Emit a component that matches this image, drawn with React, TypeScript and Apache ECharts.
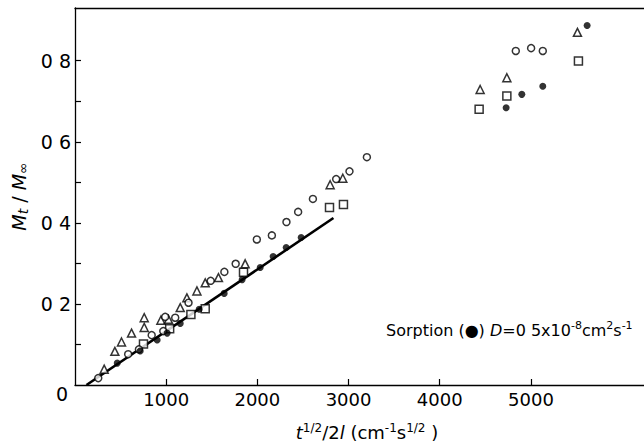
import React, { useEffect, useRef } from 'react';
import * as echarts from 'echarts';

// x: t^1/2 / 2l (cm^-1 s^1/2), y: Mt/M∞
const sorptionFilled: number[][] = [
  [463, 0.054], [715, 0.084], [901, 0.111], [1011, 0.128], [1154, 0.152],
  [1362, 0.187], [1636, 0.226], [1833, 0.26], [2031, 0.29], [2173, 0.317],
  [2316, 0.339], [2480, 0.364],
  [4728, 0.684], [4900, 0.717], [5130, 0.737], [5616, 0.887],
];
const openCircles: number[][] = [
  [255, 0.017], [583, 0.076], [701, 0.088], [841, 0.123], [968, 0.133],
  [989, 0.168], [1099, 0.166], [1245, 0.203], [1488, 0.257], [1638, 0.279],
  [1762, 0.299], [1994, 0.359], [2159, 0.369], [2319, 0.402], [2447, 0.427],
  [2609, 0.459], [2864, 0.508], [3010, 0.527], [3201, 0.562],
  [4834, 0.824], [5002, 0.831], [5130, 0.824],
];
const triangles: number[][] = [
  [320, 0.039], [437, 0.083], [510, 0.106], [620, 0.128], [759, 0.142],
  [759, 0.166], [942, 0.16], [1025, 0.162], [1154, 0.191], [1227, 0.215],
  [1337, 0.232], [1428, 0.252], [1573, 0.265], [1866, 0.299],
  [2798, 0.494], [2937, 0.51],
  [4443, 0.729], [4736, 0.758], [5510, 0.87],
];
const squares: number[][] = [
  [751, 0.101], [1038, 0.139], [1271, 0.174], [1428, 0.188], [1848, 0.278],
  [2791, 0.438], [2944, 0.445],
  [4432, 0.68], [4736, 0.713], [5521, 0.799],
];
const fitLine: number[][] = [[126, 0], [2834, 0.412]];

const xTickValues = [1000, 2000, 3000, 4000, 5000];
const xTickLabels = ['1000', '2000', '3000', '4000', '5000'];
const yMinorTicks = [0.1, 0.2, 0.3, 0.4, 0.5, 0.6, 0.7, 0.8];
const yTickValues = [0.2, 0.4, 0.6, 0.8];
const yTickLabels = ['0 2', '0 4', '0 6', '0 8'];

const FONT = 'DejaVu Sans';

export default function App() {
  const ref = useRef<HTMLDivElement>(null);
  useEffect(() => {
    if (!ref.current) return;
    const chart = echarts.init(ref.current, undefined, { renderer: 'svg' });
    const openStyle = { color: '#fff', borderColor: '#000', borderWidth: 1.5 };
    chart.setOption({
      animation: false,
      backgroundColor: '#fff',
      grid: { left: 75, right: 0, top: 8, bottom: 60 },
      xAxis: [
        {
          type: 'value', min: 0, max: 6240,
          axisLine: { lineStyle: { color: '#000', width: 1.3 } },
          axisTick: { inside: true, length: 6, customValues: xTickValues, lineStyle: { color: '#000', width: 1.2 } },
          splitLine: { show: false },
          axisLabel: {
            color: '#000', fontSize: 18, fontFamily: FONT, margin: 5,
            customValues: xTickValues,
            formatter: (v: number) => {
              const i = xTickValues.indexOf(v);
              return i >= 0 ? xTickLabels[i] : '';
            },
          },
          name: '{i|t}{sup|1/2}{n|/2}{i|l}{n| (cm}{sup|-1}{n|s}{sup|1/2}{n| )}',
          nameLocation: 'middle',
          nameGap: 37,
          nameTextStyle: {
            padding: [0, 0, 0, 15],
            rich: {
              i: { fontSize: 18, fontStyle: 'italic', fontFamily: FONT, color: '#000', lineHeight: 19, verticalAlign: 'bottom' },
              n: { fontSize: 18, fontFamily: FONT, color: '#000', lineHeight: 19, verticalAlign: 'bottom' },
              sup: { fontSize: 12, fontFamily: FONT, color: '#000', lineHeight: 12, verticalAlign: 'top' },
            },
          },
        },
        {
          type: 'value', position: 'top', min: 0, max: 6240,
          axisLine: { show: true, lineStyle: { color: '#000', width: 1.3 } },
          axisTick: { show: false }, axisLabel: { show: false }, splitLine: { show: false },
        },
      ],
      yAxis: {
        type: 'value', min: 0, max: 0.93,
        axisLine: { show: true, lineStyle: { color: '#000', width: 1.3 } },
        axisTick: { show: true, inside: true, length: 6, customValues: yMinorTicks, lineStyle: { color: '#000', width: 1.2 } },
        splitLine: { show: false },
        axisLabel: {
          color: '#000', fontSize: 19, fontFamily: FONT, margin: 4,
          customValues: yTickValues,
          formatter: (v: number) => {
            const i = yTickValues.findIndex((t) => Math.abs(t - v) < 1e-6);
            return i >= 0 ? yTickLabels[i] : '';
          },
        },
        name: '{i|M}{sub|t}{n| / }{i|M}{sub|∞}',
        nameLocation: 'middle',
        nameRotate: 90,
        nameGap: 42,
        nameTextStyle: {
          rich: {
            i: { fontSize: 19, fontStyle: 'italic', fontFamily: FONT, color: '#000', lineHeight: 20, verticalAlign: 'top' },
            n: { fontSize: 19, fontFamily: FONT, color: '#000', lineHeight: 20, verticalAlign: 'top' },
            sub: { fontSize: 14, fontStyle: 'italic', fontFamily: FONT, color: '#000', lineHeight: 14, verticalAlign: 'bottom' },
          },
        },
      },
      graphic: [
        {
          type: 'text', left: 56, top: 384,
          style: { text: '0', fontSize: 19, fontFamily: FONT, fill: '#000' },
        },
        {
          type: 'text', left: 386, top: 320,
          style: {
            text: '{n|Sorption (●) }{i|D}{n|=0 5x10}{sup|-8}{n|cm}{sup|2}{n|s}{sup|-1}',
            rich: {
              n: { fontSize: 16, fontFamily: FONT, fill: '#000', lineHeight: 18, verticalAlign: 'bottom' },
              i: { fontSize: 16, fontFamily: FONT, fontStyle: 'italic', fill: '#000', lineHeight: 18, verticalAlign: 'bottom' },
              sup: { fontSize: 11, fontFamily: FONT, fill: '#000', lineHeight: 11, verticalAlign: 'top' },
            },
          },
        },
      ],
      series: [
        {
          type: 'line', data: fitLine, symbol: 'none', silent: true,
          lineStyle: { color: '#000', width: 2.6 }, z: 2,
        },
        {
          type: 'scatter', data: squares, symbol: 'rect', symbolSize: 8,
          itemStyle: openStyle, z: 3,
        },
        {
          type: 'scatter', data: triangles, symbol: 'triangle', symbolSize: 8,
          itemStyle: openStyle, z: 3,
        },
        {
          type: 'scatter', data: openCircles, symbol: 'circle', symbolSize: 7,
          itemStyle: openStyle, z: 3,
        },
        {
          type: 'scatter', data: sorptionFilled, symbol: 'circle', symbolSize: 7,
          itemStyle: { color: '#000' }, z: 4,
        },
      ],
    });
    return () => chart.dispose();
  }, []);
  return <div ref={ref} style={{ position: 'fixed', left: 0, top: 0, width: 644, height: 446 }} />;
}
